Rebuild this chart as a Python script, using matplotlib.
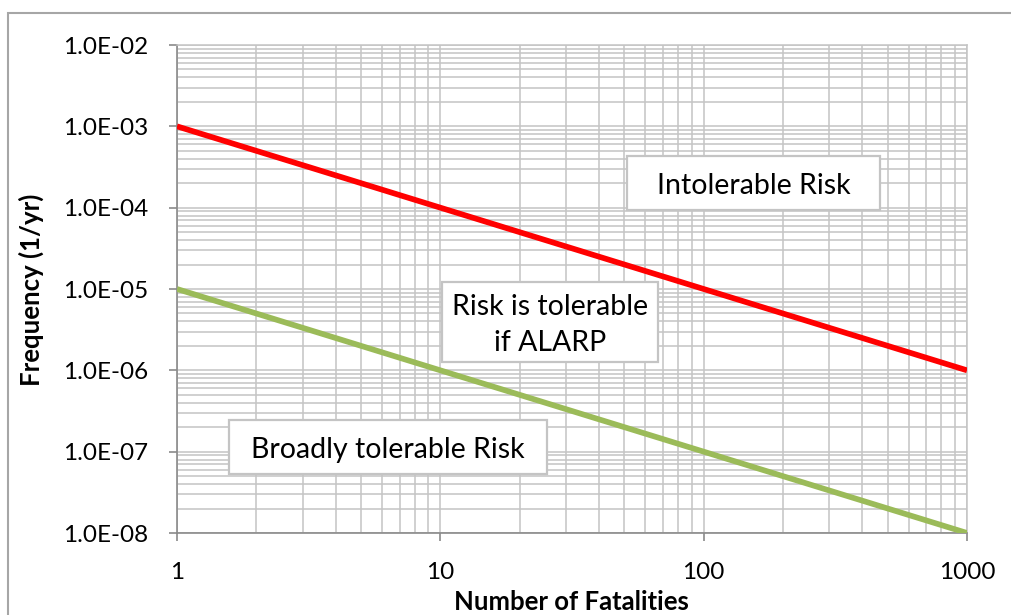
import matplotlib.pyplot as plt
from matplotlib.patches import Rectangle
from matplotlib.ticker import LogLocator, FixedLocator, NullFormatter

plt.rcParams['font.family'] = ['Lato', 'DejaVu Sans']

# F-N criterion lines (fatalities vs annual frequency)
fatalities = [1, 1000]
intolerable_limit = [1e-3, 1e-6]
broadly_acceptable_limit = [1e-5, 1e-8]

x_ticks = [1, 10, 100, 1000]
x_tick_labels = ["1", "10", "100", "1000"]
y_ticks = [1e-8, 1e-7, 1e-6, 1e-5, 1e-4, 1e-3, 1e-2]
y_tick_labels = ["1.0E-08", "1.0E-07", "1.0E-06", "1.0E-05", "1.0E-04", "1.0E-03", "1.0E-02"]

region_labels = ["Intolerable Risk", "Risk is tolerable\nif ALARP", "Broadly tolerable Risk"]

grid_color = "#c4c4c4"
axis_color = "#8a8a8a"

fig = plt.figure(figsize=(10.11, 6.15), dpi=100)
ax = fig.add_axes([177 / 1011, 1 - 533 / 615, 790 / 1011, 488 / 615])

ax.plot(fatalities, intolerable_limit, color="#ff0000", lw=4.1, solid_capstyle="butt", zorder=4)
ax.plot(fatalities, broadly_acceptable_limit, color="#9bbb59", lw=4.1, solid_capstyle="butt", zorder=4)

ax.set_xscale("log")
ax.set_yscale("log")
ax.set_xlim(1, 1000)
ax.set_ylim(1e-8, 1e-2)

ax.xaxis.set_major_locator(FixedLocator(x_ticks))
ax.set_xticklabels(x_tick_labels)
ax.yaxis.set_major_locator(FixedLocator(y_ticks))
ax.set_yticklabels(y_tick_labels)
ax.xaxis.set_minor_locator(LogLocator(base=10, subs=range(2, 10), numticks=20))
ax.yaxis.set_minor_locator(LogLocator(base=10, subs=range(2, 10), numticks=20))
ax.xaxis.set_minor_formatter(NullFormatter())
ax.yaxis.set_minor_formatter(NullFormatter())

ax.grid(True, which="both", color=grid_color, lw=1.1, zorder=0)
ax.set_axisbelow(True)
ax.tick_params(which="major", length=6, width=1.2, color=axis_color, labelsize=17.5, pad=15)
ax.tick_params(which="minor", length=0)

for side in ("left", "bottom"):
    ax.spines[side].set_color(axis_color)
    ax.spines[side].set_linewidth(1.2)
for side in ("top", "right"):
    ax.spines[side].set_color(grid_color)
    ax.spines[side].set_linewidth(1.1)

ax.set_xlabel("Number of Fatalities", fontsize=18.5, fontweight="bold")
ax.set_ylabel("Frequency (1/yr)", fontsize=18.5, fontweight="bold")
ax.xaxis.set_label_coords(0.499, -0.117)
ax.yaxis.set_label_coords(-0.168, 0.498)

# region boxes (axes fractions: x0, y0, x1, y1) and their captions
boxes = [(0.570, 0.662, 0.890, 0.773),
         (0.335, 0.350, 0.609, 0.514),
         (0.066, 0.121, 0.468, 0.232)]
for (x0, y0, x1, y1), label in zip(boxes, region_labels):
    ax.add_patch(Rectangle((x0, y0), x1 - x0, y1 - y0, transform=ax.transAxes,
                           facecolor="white", edgecolor=grid_color, lw=1.6, zorder=5))
    ax.text((x0 + x1) / 2, (y0 + y1) / 2 - 0.006, label, transform=ax.transAxes,
            ha="center", va="center", fontsize=20.5, linespacing=1.45, zorder=6)

# chart area border
fig.patches.append(Rectangle((8 / 1011, -0.1), 1.2, 1.1 - 13 / 615, transform=fig.transFigure,
                             fill=False, edgecolor="#a6a6a6", lw=1.5))

fig.savefig("out.png", dpi=100)
